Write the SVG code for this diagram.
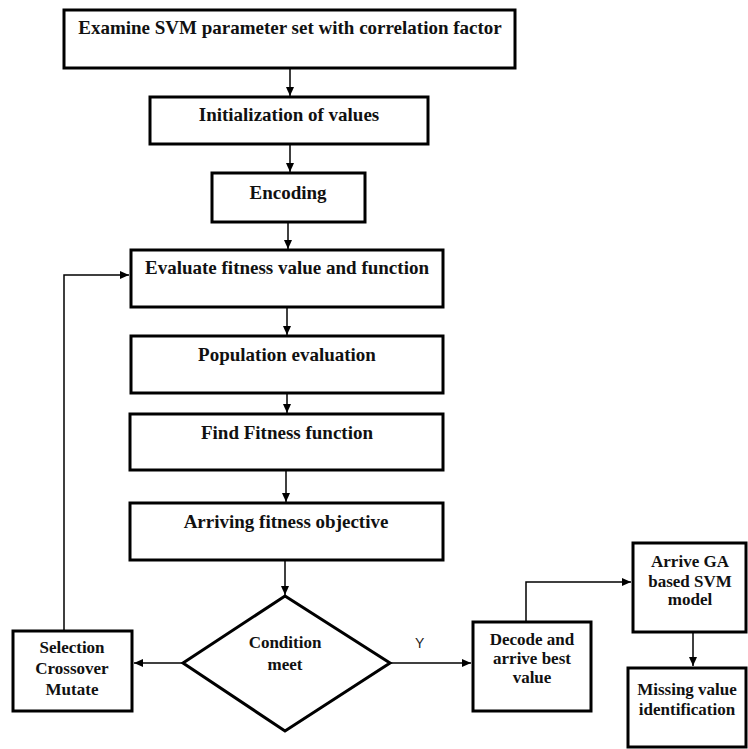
<svg xmlns="http://www.w3.org/2000/svg" width="748" height="749" viewBox="0 0 748 749">
<defs>
<marker id="ah" markerWidth="10" markerHeight="10" refX="9" refY="5" orient="auto" markerUnits="userSpaceOnUse">
<path d="M0,1 L9,5 L0,9 Z" fill="#000"/>
</marker>
<style>
.box{fill:#fff;stroke:#000;stroke-width:3}
.t{font-family:"Liberation Serif","Times New Roman",serif;font-weight:bold;font-size:17px;fill:#111;text-anchor:middle}
.L{font-size:19px}
.c{fill:none;stroke:#000;stroke-width:1.5}
.y{font-family:"Liberation Sans",Arial,sans-serif;font-size:14px;fill:#222}
</style>
</defs>
<rect width="748" height="749" fill="#fff"/>
<g id="connectors">
<line class="c" x1="290" y1="68" x2="290" y2="96" marker-end="url(#ah)"/>
<line class="c" x1="290" y1="144" x2="290" y2="172" marker-end="url(#ah)"/>
<line class="c" x1="288" y1="222" x2="288" y2="249" marker-end="url(#ah)"/>
<line class="c" x1="287" y1="307" x2="287" y2="335" marker-end="url(#ah)"/>
<line class="c" x1="287" y1="393" x2="287" y2="413" marker-end="url(#ah)"/>
<line class="c" x1="286" y1="470" x2="286" y2="502" marker-end="url(#ah)"/>
<line class="c" x1="285" y1="560" x2="285" y2="595" marker-end="url(#ah)"/>
<line class="c" x1="183" y1="663" x2="134" y2="663" marker-end="url(#ah)"/>
<polyline class="c" points="64,631 64,275 129,275" marker-end="url(#ah)"/>
<line class="c" x1="390" y1="663" x2="471" y2="663" marker-end="url(#ah)"/>
<polyline class="c" points="526,622 526,582 631,582" marker-end="url(#ah)"/>
<line class="c" x1="693" y1="632" x2="693" y2="666" marker-end="url(#ah)"/>
<text class="y" x="415" y="648">Y</text>
</g>
<g id="n1"><rect class="box" x="64" y="10" width="451" height="58"/><text class="t L" x="290" y="34">Examine SVM parameter set with correlation factor</text></g>
<g id="n2"><rect class="box" x="150" y="97" width="278" height="47"/><text class="t L" x="289" y="121">Initialization of values</text></g>
<g id="n3"><rect class="box" x="212" y="173" width="153" height="49"/><text class="t L" x="288" y="199">Encoding</text></g>
<g id="n4"><rect class="box" x="131" y="250" width="312" height="57"/><text class="t L" x="287" y="274">Evaluate fitness value and function</text></g>
<g id="n5"><rect class="box" x="131" y="336" width="312" height="57"/><text class="t L" x="287" y="361">Population evaluation</text></g>
<g id="n6"><rect class="box" x="130" y="414" width="313" height="56"/><text class="t L" x="287" y="439">Find Fitness function</text></g>
<g id="n7"><rect class="box" x="130" y="503" width="313" height="57"/><text class="t L" x="286" y="528">Arriving fitness objective</text></g>
<g id="n8"><polygon class="box" points="285,596 390,663 285,731 183,663"/><text class="t" x="285" y="648">Condition</text><text class="t" x="285" y="670">meet</text></g>
<g id="n9"><rect class="box" x="13" y="631" width="119" height="80"/><text class="t" x="72" y="653">Selection</text><text class="t" x="72" y="674">Crossover</text><text class="t" x="72" y="695">Mutate</text></g>
<g id="n10"><rect class="box" x="473" y="622" width="118" height="89"/><text class="t" x="532" y="645">Decode and</text><text class="t" x="532" y="664">arrive best</text><text class="t" x="532" y="683">value</text></g>
<g id="n11"><rect class="box" x="633" y="543" width="113" height="89"/><text class="t" x="690" y="567">Arrive GA</text><text class="t" x="690" y="587">based SVM</text><text class="t" x="690" y="605">model</text></g>
<g id="n12"><rect class="box" x="628" y="668" width="118" height="79"/><text class="t" x="687" y="695">Missing value</text><text class="t" x="687" y="715">identification</text></g>
</svg>
